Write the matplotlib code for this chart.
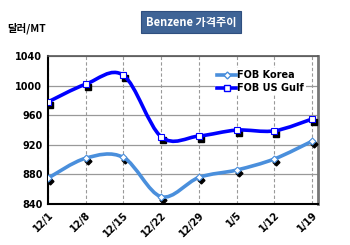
import numpy as np
import matplotlib
matplotlib.use("Agg")
import matplotlib.pyplot as plt
from matplotlib.path import Path
from matplotlib.patches import PathPatch
from matplotlib.lines import Line2D
import matplotlib.transforms as mtransforms

plt.rcParams['font.family'] = ['Noto Sans CJK KR', 'DejaVu Sans']

# data
dates = ["12/1", "12/8", "12/15", "12/22", "12/29", "1/5", "1/12", "1/19"]
fob_korea = [875, 902, 903, 850, 876, 886, 901, 925]
fob_usgulf = [978, 1002, 1014, 931, 932, 940, 939, 955]
yticks = [840, 880, 920, 960, 1000, 1040]

c_korea = "#4a8fdc"
c_gulf = "#0000ff"


# smooth line like excel (catmull-rom as bezier)
def smooth_path(x, y):
    pts = np.column_stack([x, y]).astype(float)
    verts = [pts[0]]
    codes = [Path.MOVETO]
    n = len(pts)
    for i in range(n - 1):
        p0 = pts[max(i - 1, 0)]
        p1 = pts[i]
        p2 = pts[i + 1]
        p3 = pts[min(i + 2, n - 1)]
        c1 = p1 + (p2 - p0) / 6.0
        c2 = p2 - (p3 - p1) / 6.0
        verts += [c1, c2, p2]
        codes += [Path.CURVE4] * 3
    return Path(verts, codes)


fig = plt.figure(figsize=(3.5, 2.45), dpi=100)
ax = fig.add_axes([0.137, 0.167, 0.772, 0.604])

x = np.arange(len(dates))
shadow = mtransforms.offset_copy(ax.transData, fig=fig, x=2, y=-3, units='dots')

ax.plot(x, fob_korea, linestyle='none', marker='D', ms=3.5, color='black', transform=shadow, zorder=3)
ax.plot(x, fob_usgulf, linestyle='none', marker='s', ms=5, color='black', transform=shadow, zorder=3)

for vals, col in [(fob_korea, c_korea), (fob_usgulf, c_gulf)]:
    ax.add_patch(PathPatch(smooth_path(x, vals), fill=False, edgecolor=col, lw=2.6,
                           capstyle='round', zorder=4))

ax.plot(x, fob_korea, linestyle='none', marker='D', ms=3.5, mfc='white', mec=c_korea, mew=0.8, zorder=5)
ax.plot(x, fob_usgulf, linestyle='none', marker='s', ms=5, mfc='white', mec=c_gulf, mew=0.8, zorder=5)

ax.set_xlim(0, 7.16)
ax.set_ylim(840, 1040)
ax.set_yticks(yticks)
ax.set_xticks(x)
ax.set_xticklabels(dates, rotation=45, ha='right', rotation_mode='anchor')
ax.tick_params(axis='both', length=0, labelsize=7, pad=4)
for lab in ax.get_xticklabels() + ax.get_yticklabels():
    lab.set_fontweight('bold')
    lab.set_family('DejaVu Sans')

ax.yaxis.grid(True, color='#999999', lw=0.9, linestyle='-')
ax.xaxis.grid(True, color='#999999', lw=0.8, linestyle=(0, (3, 2)))
ax.set_axisbelow(True)

ax.spines['left'].set_color('black')
ax.spines['bottom'].set_color('black')
ax.spines['left'].set_linewidth(1.5)
ax.spines['bottom'].set_linewidth(1.5)
ax.spines['top'].set_color('#555555')
ax.spines['right'].set_color('#777777')
ax.spines['top'].set_linewidth(1.2)
ax.spines['right'].set_linewidth(2)

handles = [
    Line2D([0], [0], color=c_korea, lw=2.6, marker='D', ms=3.5, mfc='white', mec=c_korea),
    Line2D([0], [0], color=c_gulf, lw=2.6, marker='s', ms=5, mfc='white', mec=c_gulf),
]
leg = ax.legend(handles, ["FOB Korea", "FOB US Gulf"], loc='upper left',
                bbox_to_anchor=(0.6, 0.95), frameon=True, fancybox=False,
                handlelength=2.0, handletextpad=0.1, borderpad=0.2, labelspacing=0.3,
                prop={'family': 'DejaVu Sans', 'weight': 'bold', 'size': 7})
leg.get_frame().set_edgecolor('none')
leg.get_frame().set_facecolor('white')
leg.get_frame().set_alpha(1)

fig.text(0.546, 0.91, "Benzene 가격주이", ha='center', va='center', color='white',
         fontsize=8, fontweight='bold',
         bbox=dict(boxstyle='square,pad=0.4', fc='#3f6496', ec='#2f4f7f', lw=0.8))
fig.text(0.022, 0.885, "달러/MT", ha='left', va='center', fontsize=7.5, fontweight='bold')

fig.savefig("out.png", dpi=100)
